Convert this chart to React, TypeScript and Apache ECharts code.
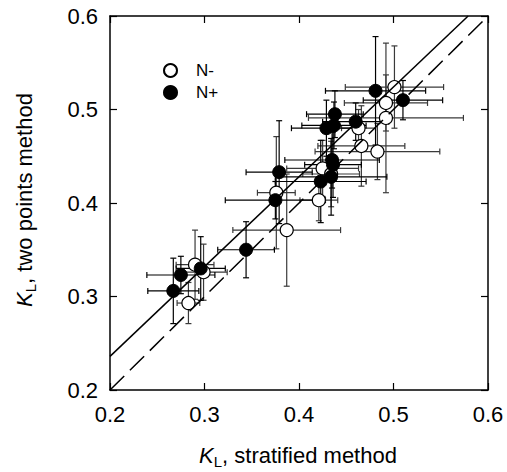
import React, { useEffect, useRef } from "react";
import * as echarts from "echarts";

// N- (open circles): x, y, x error, y error
const nMinusX = [0.501, 0.492, 0.492, 0.463, 0.466, 0.483, 0.425, 0.434, 0.421, 0.376, 0.387, 0.29, 0.299, 0.283];
const nMinusY = [0.524, 0.507, 0.491, 0.48, 0.461, 0.455, 0.437, 0.431, 0.403, 0.411, 0.371, 0.334, 0.326, 0.293];
const nMinusXErr = [0.052, 0.044, 0.082, 0.018, 0.046, 0.066, 0.038, 0.03, 0.02, 0.02, 0.057, 0.02, 0.025, 0.012];
const nMinusYErr = [0.044, 0.03, 0.08, 0.02, 0.043, 0.03, 0.03, 0.035, 0.022, 0.06, 0.06, 0.037, 0.03, 0.022];

// N+ (filled circles)
const nPlusX = [0.481, 0.51, 0.438, 0.46, 0.429, 0.437, 0.435, 0.436, 0.434, 0.423, 0.379, 0.375, 0.344, 0.296, 0.275, 0.267];
const nPlusY = [0.52, 0.51, 0.495, 0.487, 0.48, 0.483, 0.446, 0.441, 0.428, 0.423, 0.433, 0.403, 0.35, 0.33, 0.323, 0.306];
const nPlusXErr = [0.053, 0.042, 0.03, 0.035, 0.037, 0.034, 0.05, 0.03, 0.059, 0.048, 0.035, 0.053, 0.03, 0.026, 0.036, 0.027];
const nPlusYErr = [0.058, 0.021, 0.025, 0.02, 0.03, 0.025, 0.03, 0.035, 0.041, 0.044, 0.055, 0.02, 0.03, 0.034, 0.02, 0.035];

// regression line and 1:1 line
const fitLine = [[0.2, 0.236], [0.579, 0.6]];
const oneToOne = [[0.2, 0.2], [0.6, 0.6]];

const axisTicks = [0.2, 0.3, 0.4, 0.5, 0.6];

const FONT = "Liberation Sans, Arial, Helvetica, sans-serif";

function errData(xs: number[], ys: number[], xe: number[], ye: number[]) {
  return xs.map((x, i) => [x, ys[i], xe[i], ye[i]]);
}

function makeRender(color: string) {
  return (params: any, api: any) => {
    const x = api.value(0);
    const y = api.value(1);
    const ex = api.value(2);
    const ey = api.value(3);
    const l = api.coord([x - ex, y]);
    const r = api.coord([x + ex, y]);
    const t = api.coord([x, y + ey]);
    const b = api.coord([x, y - ey]);
    const c = 3;
    const st = { stroke: color, lineWidth: 1.2 };
    return {
      type: "group",
      children: [
        { type: "line", shape: { x1: l[0], y1: l[1], x2: r[0], y2: r[1] }, style: st },
        { type: "line", shape: { x1: l[0], y1: l[1] - c, x2: l[0], y2: l[1] + c }, style: st },
        { type: "line", shape: { x1: r[0], y1: r[1] - c, x2: r[0], y2: r[1] + c }, style: st },
        { type: "line", shape: { x1: t[0], y1: t[1], x2: b[0], y2: b[1] }, style: st },
        { type: "line", shape: { x1: t[0] - c, y1: t[1], x2: t[0] + c, y2: t[1] }, style: st },
        { type: "line", shape: { x1: b[0] - c, y1: b[1], x2: b[0] + c, y2: b[1] }, style: st },
      ],
    };
  };
}

export default function App() {
  const ref = useRef<HTMLDivElement>(null);
  useEffect(() => {
    if (!ref.current) return;
    const chart = echarts.init(ref.current, null, { renderer: "svg" });
    const fmt = (v: number) => v.toFixed(1);
    const baseAxis = {
      min: axisTicks[0],
      max: axisTicks[axisTicks.length - 1],
      interval: 0.1,
      axisLine: { show: true, onZero: false, lineStyle: { color: "#000", width: 1.5 } },
      axisTick: { show: true, inside: true, length: 7, lineStyle: { color: "#000", width: 1.2 } },
      splitLine: { show: false },
    };
    const rich = {
      k: { fontFamily: FONT, fontSize: 22, fontStyle: "italic", lineHeight: 28, color: "#000" },
      s: { fontFamily: FONT, fontSize: 15, lineHeight: 14, verticalAlign: "bottom", color: "#000" },
      n: { fontFamily: FONT, fontSize: 22, lineHeight: 28, color: "#000" },
    };
    chart.setOption({
      animation: false,
      backgroundColor: "#fff",
      grid: { left: 110, top: 16, right: 19, bottom: 82, show: false },
      legend: {
        orient: "vertical",
        left: 158,
        top: 57,
        itemWidth: 13,
        itemHeight: 13,
        itemGap: 5,
        icon: "circle",
        data: ["N-", "N+"],
        textStyle: { fontFamily: FONT, fontSize: 17, color: "#000", padding: [0, 0, 0, 14] },
      },
      xAxis: [
        {
          ...baseAxis,
          type: "value",
          position: "bottom",
          axisLabel: { formatter: fmt, fontFamily: FONT, fontSize: 22, color: "#000", margin: 13 },
        },
        { ...baseAxis, type: "value", position: "top", axisLabel: { show: false } },
      ],
      yAxis: [
        {
          ...baseAxis,
          type: "value",
          position: "left",
          axisLabel: { formatter: fmt, fontFamily: FONT, fontSize: 22, color: "#000", margin: 12 },
        },
        { ...baseAxis, type: "value", position: "right", axisLabel: { show: false } },
      ],
      graphic: [
        {
          type: "text",
          x: 298,
          y: 455,
          style: {
            text: "{k|K}{s|L}{n|, stratified method}",
            rich,
            align: "center",
            verticalAlign: "middle",
            fill: "#000",
          },
        },
        {
          type: "text",
          x: 24,
          y: 200,
          rotation: Math.PI / 2,
          style: {
            text: "{k|K}{s|L}{n|, two points method}",
            rich,
            align: "center",
            verticalAlign: "middle",
            fill: "#000",
          },
        },
      ],
      series: [
        {
          type: "custom",
          name: "errMinus",
          xAxisIndex: 0,
          yAxisIndex: 0,
          z: 1,
          renderItem: makeRender("#3a3a3a"),
          encode: { x: 0, y: 1 },
          data: errData(nMinusX, nMinusY, nMinusXErr, nMinusYErr),
          silent: true,
        },
        {
          type: "custom",
          name: "errPlus",
          xAxisIndex: 0,
          yAxisIndex: 0,
          z: 1,
          renderItem: makeRender("#000"),
          encode: { x: 0, y: 1 },
          data: errData(nPlusX, nPlusY, nPlusXErr, nPlusYErr),
          silent: true,
        },
        {
          type: "scatter",
          name: "N-",
          z: 2,
          symbol: "circle",
          symbolSize: 13,
          itemStyle: { color: "#fff", borderColor: "#000", borderWidth: 1.2, opacity: 1 },
          data: nMinusX.map((x, i) => [x, nMinusY[i]]),
        },
        {
          type: "scatter",
          name: "N+",
          z: 2,
          symbol: "circle",
          symbolSize: 13,
          itemStyle: { color: "#000", borderColor: "#000", borderWidth: 1, opacity: 1 },
          data: nPlusX.map((x, i) => [x, nPlusY[i]]),
        },
        {
          type: "line",
          z: 3,
          symbol: "none",
          showSymbol: false,
          lineStyle: { color: "#000", width: 1.5 },
          data: fitLine,
          silent: true,
        },
        {
          type: "line",
          z: 3,
          symbol: "none",
          showSymbol: false,
          lineStyle: { color: "#000", width: 1.5, type: [20, 8] },
          data: oneToOne,
          silent: true,
        },
      ],
    });
    return () => chart.dispose();
  }, []);
  return (
    <div
      ref={ref}
      style={{ position: "fixed", left: 0, top: 0, width: 507, height: 472, background: "#fff" }}
    />
  );
}
